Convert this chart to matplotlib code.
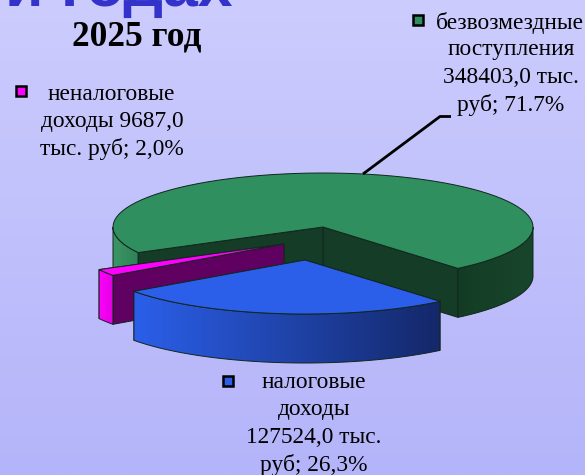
"""3D-style exploded revenue pie, 2025."""

from __future__ import annotations

import matplotlib

matplotlib.use("Agg")
import matplotlib.pyplot as plt
import numpy as np
from matplotlib.patches import Polygon, Rectangle

values = [348403.0, 9687.0, 127524.0]
shares_text = ["71.7%", "2,0%", "26,3%"]
start_deg = -50.0

WIDTH, HEIGHT = 585, 475
CENTER = np.array([323.0, 227.0])
RX, RY, DEPTH = 210.0, 54.0, 49.0
OFFSETS = [(0.0, 0.0), (-39.0, 17.0), (-18.0, 33.0)]
EDGE = "#12261c"
LABEL_SIZE = 16.8
LINE_STEP = 27.4


def rgb(r, g, b):
    return np.array([r, g, b]) / 255


def arc(start, end, offset, n=80):
    t = np.radians(np.linspace(start, end, n))
    x = CENTER[0] + offset[0] + RX * np.cos(t)
    y = CENTER[1] + offset[1] - RY * np.sin(t)
    return np.column_stack([x, y])


def side_gradient(ax, points, left_color, right_color, zorder):
    """Fill the outer wall polygon with a horizontal gradient."""
    poly = Polygon(points, closed=True, facecolor="none", edgecolor="none")
    ax.add_patch(poly)
    t = np.linspace(0, 1, 256)[None, :, None]
    xs, ys = points[:, 0], points[:, 1]
    im = ax.imshow(
        left_color + (right_color - left_color) * t,
        extent=(xs.min(), xs.max(), ys.max(), ys.min()),
        aspect="auto",
        zorder=zorder,
    )
    im.set_clip_path(poly)
    ax.add_patch(
        Polygon(points, closed=True, facecolor="none", edgecolor=EDGE, linewidth=0.7, zorder=zorder + 0.1)
    )


def wedge(ax, start, end, offset, top, cut, walls, zorder):
    """walls is a list of (arc start, arc end, left colour, right colour)."""
    apex = CENTER + np.array(offset)
    rim = arc(start, end, offset)
    drop = np.array([0.0, DEPTH])

    for p in (rim[0], rim[-1]):
        face = np.array([apex, p, p + drop, apex + drop])
        ax.add_patch(Polygon(face, closed=True, facecolor=cut, edgecolor=EDGE, linewidth=0.7, zorder=zorder))

    for wall_start, wall_end, left_color, right_color in walls:
        part = arc(wall_start, wall_end, offset)
        side_gradient(ax, np.vstack([part, part[::-1] + drop]), left_color, right_color, zorder + 1)

    ax.add_patch(
        Polygon(np.vstack([apex, rim]), closed=True, facecolor=top, edgecolor=EDGE, linewidth=0.7, zorder=zorder + 2)
    )


def label(x_first, y_first, first, x_rest, rest, key_xy, key_color):
    ax.text(x_first, y_first, first, family="Liberation Serif", fontsize=LABEL_SIZE, ha="center", va="center", zorder=21)
    for i, line in enumerate(rest):
        ax.text(
            x_rest, y_first + LINE_STEP * (i + 1), line,
            family="Liberation Serif", fontsize=LABEL_SIZE, ha="center", va="center", zorder=21,
        )
    ax.add_patch(
        Rectangle((key_xy[0] - 5, key_xy[1] - 5), 10, 10, facecolor=key_color, edgecolor="black", linewidth=1.8, zorder=21)
    )


fig = plt.figure(figsize=(WIDTH / 100, HEIGHT / 100), dpi=100)
ax = fig.add_axes([0, 0, 1, 1])
ax.axis("off")

# background
bg = np.linspace(0, 1, 256)[:, None, None]
ax.imshow(rgb(204, 204, 254) + (rgb(180, 180, 250) - rgb(204, 204, 254)) * bg, extent=(0, WIDTH, HEIGHT, 0), aspect="auto", zorder=0)

spans = np.array(values) / sum(values) * 360.0
edges = start_deg + np.concatenate([[0.0], np.cumsum(spans)])

wedge(
    ax, edges[0], edges[1], OFFSETS[0], "#2f8f5f", "#143c26",
    [
        (edges[0], 0.0, rgb(20, 60, 37), rgb(24, 70, 44)),
        (180.0, edges[1], rgb(60, 150, 100), rgb(46, 130, 88)),
    ],
    2,
)
wedge(
    ax, edges[1], edges[2], OFFSETS[1], "#ff00ff", "#600060",
    [(edges[1], edges[2], rgb(255, 0, 255), rgb(225, 0, 225))],
    6,
)
wedge(
    ax, edges[2], edges[3], OFFSETS[2], "#2b5fea", "#2b5fea",
    [(edges[2], edges[3], rgb(43, 95, 234), rgb(20, 40, 105))],
    10,
)

ax.set_xlim(0, WIDTH)
ax.set_ylim(HEIGHT, 0)

# leader line
ax.plot([451, 440, 363], [116.5, 116.5, 174], color="black", lw=2, zorder=20, solid_capstyle="butt")

# heading cut off by the top edge, as in the slide
ax.text(5, 5.5, "и годах", family="Liberation Sans", weight="bold", fontsize=45, color="#3333cc", ha="left", va="baseline", zorder=21)
ax.text(137, 37, "2025 год", family="Liberation Serif", weight="bold", fontsize=25.5, color="black", ha="center", va="center", zorder=21)

label(510, 22.5, "безвозмездные", 511, ["поступления", "348403,0 тыс.", "руб; " + shares_text[0]], (418, 20), "#2f8f5f")
label(111, 94.5, "неналоговые", 112, ["доходы 9687,0", "тыс. руб; " + shares_text[1]], (21, 91), "#ff00ff")
label(314, 382.5, "налоговые", 314, ["доходы", "127524,0 тыс.", "руб; " + shares_text[2]], (228, 381), "#2b5fea")

fig.savefig("out.png", dpi=100)
plt.close(fig)
